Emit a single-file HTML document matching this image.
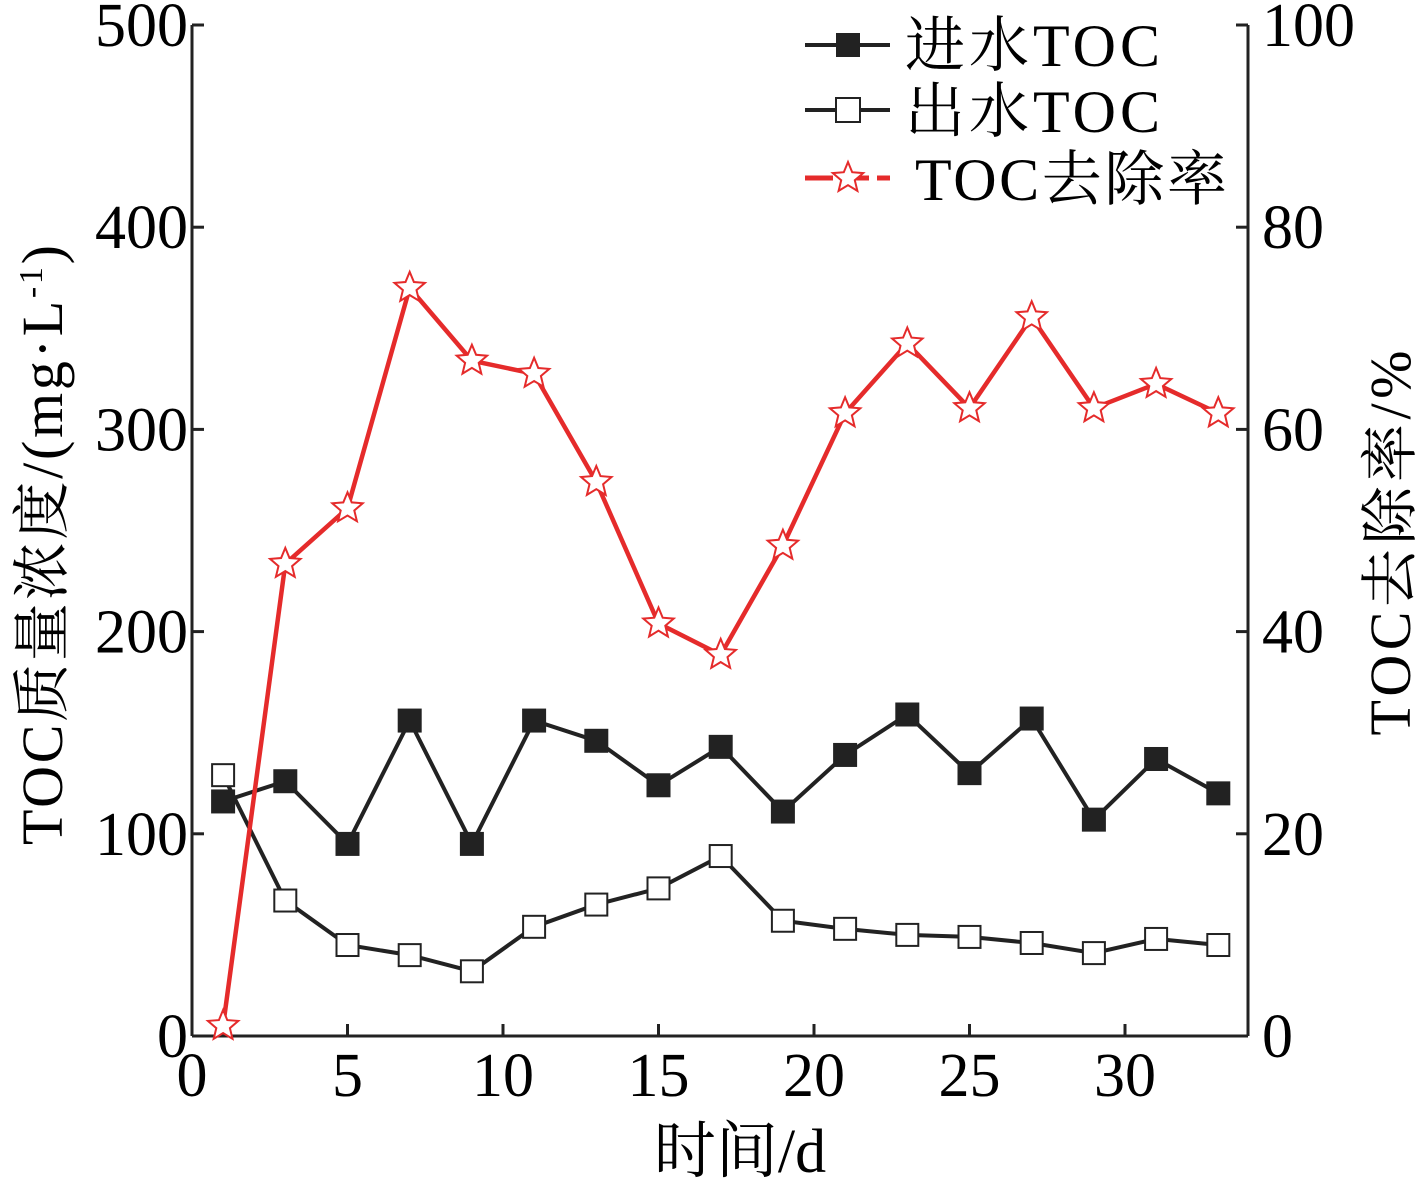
<!DOCTYPE html>
<html><head><meta charset="utf-8">
<style>
body{margin:0;background:#fff;}
svg{display:block;font-family:"Liberation Serif","Noto Serif CJK SC",serif;}
</style></head>
<body>
<svg id="chart" width="1417" height="1181" viewBox="0 0 1417 1181" xmlns="http://www.w3.org/2000/svg">
<g id="axes"></g>
<g id="series"></g>
<g id="legend">
  <line x1="805" y1="45" x2="890" y2="45" stroke="#222" stroke-width="4"/>
  <rect x="836" y="33" width="24" height="24" fill="#222"/>
  <text x="905" y="66" font-size="60" textLength="255">进水TOC</text>
  <line x1="805" y1="110" x2="890" y2="110" stroke="#222" stroke-width="4"/>
  <rect x="836" y="98" width="24" height="24" fill="#fff" stroke="#222" stroke-width="2"/>
  <text x="905" y="132" font-size="60" textLength="255">出水TOC</text>
  <line x1="805" y1="178" x2="890" y2="178" stroke="#e52b2b" stroke-width="5" stroke-dasharray="28,8"/>
  <path id="legstar" fill="#fff" stroke="#e52b2b" stroke-width="2"/>
  <text x="915" y="200" font-size="60" textLength="312">TOC去除率</text>
</g>
<text x="740" y="1172" font-size="62" text-anchor="middle">时间/d</text>
<text transform="translate(62,545) rotate(-90)" font-size="58" text-anchor="middle" textLength="600">TOC质量浓度/(mg·L<tspan font-size="34" dy="-20">-1</tspan><tspan dy="20">)</tspan></text>
<text transform="translate(1410,543) rotate(-90)" font-size="58" text-anchor="middle" textLength="385">TOC去除率/%</text>
</svg>
<script>
const days=[1,3,5,7,9,11,13,15,17,19,21,23,25,27,29,31,33];
const influent=[116,126,95,156,95,156,146,124,143,111,139,159,130,157,107,137,120];
const effluent=[129,67,45,40,32,54,65,73,89,57,53,50,49,46,41,48,45];
const removal=[1,46.7,52.2,74,66.8,65.5,54.8,40.8,37.7,48.5,61.6,68.5,62.1,71.1,62.1,64.5,61.6];
const xTicks=[0,5,10,15,20,25,30];
const yLeftTicks=[0,100,200,300,400,500];
const yRightTicks=[0,20,40,60,80,100];

const X0=192,X1=1248,Y0=1036,Y1=25;
const sx=v=>X0+v*31.1;
const syL=v=>Y0-(Y0-Y1)*v/500;
const syR=v=>Y0-(Y0-Y1)*v/100;
const NS="http://www.w3.org/2000/svg";
function mk(tag,attrs,parent){const e=document.createElementNS(NS,tag);for(const k in attrs)e.setAttribute(k,attrs[k]);parent.appendChild(e);return e;}
const axes=document.getElementById('axes'),series=document.getElementById('series');

let a=mk('line',{x1:X0,y1:Y1,x2:X0,y2:Y0,stroke:'#222','stroke-width':3},axes);

a=mk('line',{x1:X1,y1:Y1,x2:X1,y2:Y0,stroke:'#222','stroke-width':3},axes);

a=mk('line',{x1:X0,y1:Y0,x2:X1,y2:Y0,stroke:'#222','stroke-width':3},axes);


xTicks.forEach(t=>{
  const l=mk('line',{x1:sx(t),y1:Y0,x2:sx(t),y2:Y0-12,stroke:'#222','stroke-width':3},axes);
  
  const tx=mk('text',{x:sx(t),y:Y0+60,'font-size':62,'text-anchor':'middle'},axes);tx.textContent=t;
  
});
yLeftTicks.forEach(t=>{
  const l=mk('line',{x1:X0,y1:syL(t),x2:X0+12,y2:syL(t),stroke:'#222','stroke-width':3},axes);
  
  const tx=mk('text',{x:X0-4,y:syL(t)+21,'font-size':62,'text-anchor':'end'},axes);tx.textContent=t;
  
});
yRightTicks.forEach(t=>{
  const l=mk('line',{x1:X1,y1:syR(t),x2:X1-12,y2:syR(t),stroke:'#222','stroke-width':3},axes);
  
  const tx=mk('text',{x:X1+14,y:syR(t)+21,'font-size':62,'text-anchor':'start'},axes);tx.textContent=t;
  
});

function starPath(cx,cy,R){const r=R*0.45;let d='';for(let i=0;i<10;i++){const rr=i%2?r:R;const ang=-Math.PI/2+i*Math.PI/5;d+=(i?'L':'M')+(cx+rr*Math.cos(ang)).toFixed(1)+','+(cy+rr*Math.sin(ang)).toFixed(1);}return d+'Z';}
document.getElementById('legstar').setAttribute('d',starPath(848,178,16));

let p=mk('polyline',{points:days.map((d,i)=>sx(d)+','+syL(influent[i])).join(' '),fill:'none',stroke:'#222','stroke-width':4},series);

p=mk('polyline',{points:days.map((d,i)=>sx(d)+','+syL(effluent[i])).join(' '),fill:'none',stroke:'#222','stroke-width':4},series);

p=mk('polyline',{points:days.map((d,i)=>sx(d)+','+syR(removal[i])).join(' '),fill:'none',stroke:'#e52b2b','stroke-width':4.5},series);


days.forEach((d,i)=>{
  let m=mk('rect',{x:sx(d)-12,y:syL(influent[i])-12,width:24,height:24,fill:'#222'},series);
  
  m=mk('rect',{x:sx(d)-11,y:syL(effluent[i])-11,width:22,height:22,fill:'#fff',stroke:'#222','stroke-width':2},series);
  
  m=mk('path',{d:starPath(sx(d),syR(removal[i]),16),fill:'#fff',stroke:'#e52b2b','stroke-width':2},series);
  
});
</script>
</body></html>
